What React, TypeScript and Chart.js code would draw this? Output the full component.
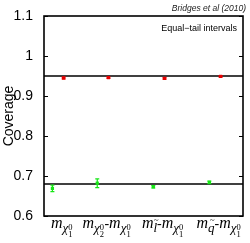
import React, { useEffect, useRef } from "react";
import { Chart, registerables } from "chart.js";

Chart.register(...registerables);

// ---- data ----
const categoryX = [1, 1.8, 2.8, 3.8];
const greenValues = [0.669, 0.682, 0.673, 0.684];
const greenErrors = [0.008, 0.011, 0.003, 0.003];
const redValues = [0.945, 0.946, 0.944, 0.949];
const redErrors = [0.002, 0.002, 0.002, 0.002];
const referenceLines = [0.95, 0.68];
const yMin = 0.6;
const yMax = 1.1;
const yStep = 0.1;
const yTitle = "Coverage";
const citation = "Bridges et al (2010)";
const legendText = "Equal\u2212tail intervals";
const xLabelTerms = [
  [{ base: "\u03c7", sub: "1", sup: "0" }],
  [{ base: "\u03c7", sub: "2", sup: "0" }, { base: "\u03c7", sub: "1", sup: "0" }],
  [{ base: "l", tilde: true }, { base: "\u03c7", sub: "1", sup: "0" }],
  [{ base: "q", tilde: true }, { base: "\u03c7", sub: "1", sup: "0" }],
];

const GREEN = "#16e616";
const RED = "#e80000";
const SERIF = "'Liberation Serif', 'DejaVu Serif', serif";
const SANS = "'Liberation Sans', Arial, sans-serif";

type Term = { base: string; sub?: string; sup?: string; tilde?: boolean };

function drawMathLabel(ctx: CanvasRenderingContext2D, terms: Term[], cx: number, baseline: number) {
  const mainFont = `italic 16px ${SERIF}`;
  const subFont = `italic 13px ${SERIF}`;
  const tinyFont = `8.5px ${SERIF}`;
  const dashFont = `14px ${SERIF}`;
  type Piece = { text: string; font: string; x: number; y: number };
  const pieces: Piece[] = [];
  let x = 0;
  const put = (text: string, font: string, dy: number) => {
    ctx.font = font;
    const w = ctx.measureText(text).width;
    pieces.push({ text, font, x, y: dy });
    return w;
  };
  terms.forEach((t, i) => {
    if (i > 0) {
      x += put("-", dashFont, 0);
    }
    x += put("m", mainFont, 0);
    const bw = put(t.base, subFont, 4);
    if (t.tilde) {
      ctx.font = tinyFont;
      const tw = ctx.measureText("~").width;
      pieces.push({ text: "~", font: tinyFont, x: x + bw / 2 - tw / 2 + 1, y: -5 });
    }
    x += bw;
    if (t.sub || t.sup) {
      ctx.font = tinyFont;
      const w1 = t.sub ? ctx.measureText(t.sub).width : 0;
      const w2 = t.sup ? ctx.measureText(t.sup).width : 0;
      if (t.sup) pieces.push({ text: t.sup, font: tinyFont, x, y: 2 });
      if (t.sub) pieces.push({ text: t.sub, font: tinyFont, x, y: 9 });
      x += Math.max(w1, w2) + 0.5;
    }
  });
  const start = cx - x / 2;
  ctx.fillStyle = "#000";
  ctx.textAlign = "left";
  ctx.textBaseline = "alphabetic";
  pieces.forEach((p) => {
    ctx.font = p.font;
    ctx.fillText(p.text, start + p.x, baseline + p.y);
  });
}

const decorPlugin = {
  id: "decor",
  beforeDatasetsDraw(chart: any) {
    const { ctx, chartArea, scales } = chart;
    const y = scales.y;
    ctx.save();
    ctx.strokeStyle = "#000";
    ctx.lineWidth = 1.5;
    referenceLines.forEach((v) => {
      const py = y.getPixelForValue(v);
      ctx.beginPath();
      ctx.moveTo(chartArea.left, py);
      ctx.lineTo(chartArea.right, py);
      ctx.stroke();
    });
    chart.data.datasets.forEach((ds: any, di: number) => {
      const meta = chart.getDatasetMeta(di);
      ctx.strokeStyle = ds.backgroundColor;
      ctx.lineWidth = 1.2;
      ds.data.forEach((pt: any, i: number) => {
        const err = ds.errors[i];
        const el = meta.data[i];
        const px = el.x;
        const top = y.getPixelForValue(pt.y + err);
        const bot = y.getPixelForValue(pt.y - err);
        ctx.beginPath();
        ctx.moveTo(px, top);
        ctx.lineTo(px, bot);
        ctx.moveTo(px - 2, top);
        ctx.lineTo(px + 2, top);
        ctx.moveTo(px - 2, bot);
        ctx.lineTo(px + 2, bot);
        ctx.stroke();
      });
    });
    ctx.restore();
  },
  afterDraw(chart: any) {
    const { ctx, chartArea, scales } = chart;
    const y = scales.y;
    const x = scales.x;
    ctx.save();
    ctx.strokeStyle = "#000";
    ctx.lineWidth = 1;
    y.ticks.forEach((t: any) => {
      const py = Math.round(y.getPixelForValue(t.value)) + 0.5;
      ctx.beginPath();
      ctx.moveTo(chartArea.left, py);
      ctx.lineTo(chartArea.left + 4, py);
      ctx.moveTo(chartArea.right, py);
      ctx.lineTo(chartArea.right - 4, py);
      ctx.stroke();
    });
    ctx.lineWidth = 1.6;
    ctx.strokeRect(chartArea.left, chartArea.top, chartArea.right - chartArea.left, chartArea.bottom - chartArea.top);
    ctx.fillStyle = "#222";
    ctx.textAlign = "right";
    ctx.textBaseline = "alphabetic";
    ctx.font = `italic 8.5px ${SANS}`;
    ctx.fillText(citation, chartArea.right + 3, 10.5);
    ctx.fillStyle = "#000";
    ctx.font = `9px ${SANS}`;
    ctx.fillText(legendText, chartArea.right - 6, 30.5);
    xLabelTerms.forEach((terms, i) => {
      const px = x.getPixelForValue(categoryX[i] + 0.07);
      drawMathLabel(ctx, terms as Term[], px, chartArea.bottom + 12);
    });
    ctx.restore();
  },
};

export default function App() {
  const ref = useRef<HTMLCanvasElement | null>(null);
  useEffect(() => {
    if (!ref.current) return;
    const chart = new Chart(ref.current, {
      type: "scatter",
      data: {
        datasets: [
          {
            label: "68%",
            data: categoryX.map((c, i) => ({ x: c - 0.1, y: greenValues[i] })),
            errors: greenErrors,
            backgroundColor: GREEN,
            borderColor: GREEN,
            pointStyle: "rect",
            pointRadius: 2.3,
            borderWidth: 0,
          } as any,
          {
            label: "95%",
            data: categoryX.map((c, i) => ({ x: c + 0.1, y: redValues[i] })),
            errors: redErrors,
            backgroundColor: RED,
            borderColor: RED,
            pointStyle: "rect",
            pointRadius: 2.3,
            borderWidth: 0,
          } as any,
        ],
      },
      options: {
        responsive: false,
        animation: false,
        layout: { padding: { top: 16, right: 7, left: 0, bottom: 27 } },
        plugins: { legend: { display: false }, tooltip: { enabled: false } },
        scales: {
          x: { type: "linear", display: false, min: 0.75, max: 4.3 },
          y: {
            type: "linear",
            min: yMin,
            max: yMax,
            grid: { display: false },
            border: { display: false },
            ticks: {
              stepSize: yStep,
              color: "#000",
              padding: 3,
              font: { family: SANS, size: 14 },
              callback: (v: any) => String(Number(Number(v).toFixed(1))),
            },
            title: {
              display: true,
              text: yTitle,
              color: "#000",
              font: { family: SANS, size: 14 },
              padding: { top: 1, bottom: 0 },
            },
            afterFit: (s: any) => {
              s.width = 44;
            },
          },
        },
      },
      plugins: [decorPlugin],
    } as any);
    return () => chart.destroy();
  }, []);
  return (
    <div style={{ position: "fixed", left: 0, top: 0, width: 250, height: 243, background: "#fff" }}>
      <canvas ref={ref} width={250} height={243} />
    </div>
  );
}
